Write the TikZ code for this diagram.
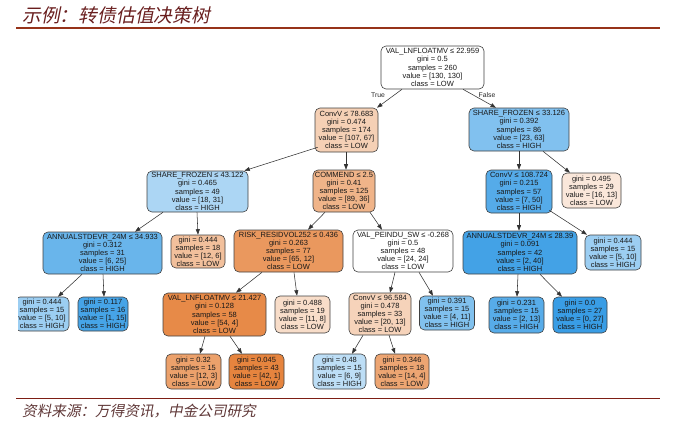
\documentclass[tikz,border=0pt]{standalone}
\usepackage{fontspec}
\setmainfont{Liberation Sans}
\newfontfamily\cjkfont[FakeSlant=0.2]{Noto Sans CJK SC}
\usetikzlibrary{arrows.meta}
\definecolor{titlered}{RGB}{150,50,25}
\definecolor{footred}{RGB}{125,30,20}
\definecolor{headtext}{RGB}{105,30,30}
\definecolor{foottext}{RGB}{95,55,55}
\definecolor{cA}{RGB}{245,208,181}
\definecolor{cB}{RGB}{129,193,239}
\definecolor{cC}{RGB}{172,214,244}
\definecolor{cD}{RGB}{240,180,137}
\definecolor{cE}{RGB}{85,171,233}
\definecolor{cF}{RGB}{250,231,218}
\definecolor{cG}{RGB}{105,181,235}
\definecolor{cH}{RGB}{242,192,156}
\definecolor{cI}{RGB}{234,152,94}
\definecolor{cJ}{RGB}{67,162,230}
\definecolor{cK}{RGB}{156,206,242}
\definecolor{cL}{RGB}{70,164,231}
\definecolor{cM}{RGB}{231,138,72}
\definecolor{cN}{RGB}{248,221,201}
\definecolor{cO}{RGB}{246,211,186}
\definecolor{cP}{RGB}{129,193,238}
\definecolor{cQ}{RGB}{87,172,233}
\definecolor{cR}{RGB}{57,157,229}
\definecolor{cS}{RGB}{236,161,107}
\definecolor{cT}{RGB}{230,132,62}
\definecolor{cU}{RGB}{189,222,246}
\definecolor{cV}{RGB}{237,165,114}
\tikzset{
  tn/.style={draw=black!75, line width=0.6pt, rounded corners=5pt, align=center,
    inner sep=0pt, text=black!90, font=\fontsize{7.5}{8.1}\selectfont},
  edge/.style={draw=black!80, line width=0.55pt, -{Triangle[length=5.5pt,width=4pt]}},
  elab/.style={font=\fontsize{6.8}{7}\selectfont, text=black!85, inner sep=0pt},
  sz/.style 2 args={minimum width=#1pt, minimum height=#2pt}
}
\begin{document}
\begin{tikzpicture}[x=1pt,y=-1pt]
\useasboundingbox (0,0) rectangle (700,432);
% header and footer
\node[anchor=west, inner sep=0pt, text=headtext, font=\cjkfont\fontsize{18.8}{20}\selectfont] (title) at (22,15) {示例：转债估值决策树};
\draw[titlered, line width=1.6pt] (16,28) -- (660,28);
\draw[footred, line width=1pt] (16,398.5) -- (660,398.5);
\node[anchor=west, inner sep=0pt, text=foottext, font=\cjkfont\fontsize{14.6}{16}\selectfont] (foot) at (22,411) {资料来源：万得资讯，中金公司研究};
\begin{scope}
\clip (18,38) rectangle (700,396);
% level 0
\node[tn, fill=white, sz={103}{43}] (root) at (432.5,67.5) {VAL\_LNFLOATMV ≤ 22.959\\gini = 0.5\\samples = 260\\value = [130, 130]\\class = LOW};
% level 1
\node[tn, fill=cA, sz={63}{44}] (n1) at (346.5,130) {ConvV ≤ 78.683\\gini = 0.474\\samples = 174\\value = [107, 67]\\class = LOW};
\node[tn, fill=cB, sz={100}{43}] (n2) at (519,129.5) {SHARE\_FROZEN ≤ 33.126\\gini = 0.392\\samples = 86\\value = [23, 63]\\class = HIGH};
% level 2
\node[tn, fill=cC, sz={101}{41}] (n3) at (197.5,191.5) {SHARE\_FROZEN ≤ 43.122\\gini = 0.465\\samples = 49\\value = [18, 31]\\class = HIGH};
\node[tn, fill=cD, sz={62}{42}] (n4) at (344,191) {COMMEND ≤ 2.5\\gini = 0.41\\samples = 125\\value = [89, 36]\\class = LOW};
\node[tn, fill=cE, sz={66}{43}] (n5) at (519,191.5) {ConvV ≤ 108.724\\gini = 0.215\\samples = 57\\value = [7, 50]\\class = HIGH};
\node[tn, fill=cF, sz={59}{35}] (n6) at (591.5,190.5) {gini = 0.495\\samples = 29\\value = [16, 13]\\class = LOW};
% level 3
\node[tn, fill=cG, sz={119}{42}] (n7) at (102.5,253) {ANNUALSTDEVR\_24M ≤ 34.933\\gini = 0.312\\samples = 31\\value = [6, 25]\\class = HIGH};
\node[tn, fill=cH, sz={54}{33}] (n8) at (198,251.5) {gini = 0.444\\samples = 18\\value = [12, 6]\\class = LOW};
\node[tn, fill=cI, sz={109}{42}] (n9) at (288.5,251) {RISK\_RESIDVOL252 ≤ 0.436\\gini = 0.263\\samples = 77\\value = [65, 12]\\class = LOW};
\node[tn, fill=white, sz={100}{42}] (n10) at (403,251) {VAL\_PEINDU\_SW ≤ -0.268\\gini = 0.5\\samples = 48\\value = [24, 24]\\class = LOW};
\node[tn, fill=cJ, sz={114}{43}] (n11) at (520,252.5) {ANNUALSTDEVR\_24M ≤ 28.39\\gini = 0.091\\samples = 42\\value = [2, 40]\\class = HIGH};
\node[tn, fill=cK, sz={56}{35}] (n12) at (613,252.5) {gini = 0.444\\samples = 15\\value = [5, 10]\\class = HIGH};
% level 4
\node[tn, fill=cK, sz={54}{34}] (n13) at (42,314) {gini = 0.444\\samples = 15\\value = [5, 10]\\class = HIGH};
\node[tn, fill=cL, sz={50}{34}] (n14) at (103,314) {gini = 0.117\\samples = 16\\value = [1, 15]\\class = HIGH};
\node[tn, fill=cM, sz={103}{43}] (n15) at (214.5,314.5) {VAL\_LNFLOATMV ≤ 21.427\\gini = 0.128\\samples = 58\\value = [54, 4]\\class = LOW};
\node[tn, fill=cN, sz={55}{37}] (n16) at (302.5,314.5) {gini = 0.488\\samples = 19\\value = [11, 8]\\class = LOW};
\node[tn, fill=cO, sz={62}{42}] (n17) at (380,314) {ConvV ≤ 96.584\\gini = 0.478\\samples = 33\\value = [20, 13]\\class = LOW};
\node[tn, fill=cP, sz={55}{34}] (n18) at (447,313) {gini = 0.391\\samples = 15\\value = [4, 11]\\class = HIGH};
\node[tn, fill=cQ, sz={55}{36}] (n19) at (516.5,315) {gini = 0.231\\samples = 15\\value = [2, 13]\\class = HIGH};
\node[tn, fill=cR, sz={54}{36}] (n20) at (580,315) {gini = 0.0\\samples = 27\\value = [0, 27]\\class = HIGH};
% level 5
\node[tn, fill=cS, sz={55}{35}] (n21) at (193.5,371.5) {gini = 0.32\\samples = 15\\value = [12, 3]\\class = LOW};
\node[tn, fill=cT, sz={55}{35}] (n22) at (256.5,371.5) {gini = 0.045\\samples = 43\\value = [42, 1]\\class = LOW};
\node[tn, fill=cU, sz={53}{35}] (n23) at (339.5,371.5) {gini = 0.48\\samples = 15\\value = [6, 9]\\class = HIGH};
\node[tn, fill=cV, sz={54}{35}] (n24) at (402,371.5) {gini = 0.346\\samples = 18\\value = [14, 4]\\class = LOW};
% edge labels
\node[elab] (ltrue) at (378,95) {True};
\node[elab] (lfalse) at (487,95) {False};
% edges
\draw[edge] ([xshift=-30.5pt]root.south) -- ([xshift=30.5pt]n1.north);
\draw[edge] ([xshift=30.5pt]root.south) -- ([xshift=-23pt]n2.north);
\draw[edge] ([xshift=3pt,yshift=5pt]n1.south west) -- ([xshift=-4pt]n3.north east);
\draw[edge] ([xshift=-0.5pt]n1.south) -- ([xshift=2pt]n4.north);
\draw[edge] (n2.south) -- (n5.north);
\draw[edge] ([xshift=24pt]n2.south) -- ([xshift=-21.5pt]n6.north);
\draw[edge] (n5.south) -- ([xshift=-1pt]n11.north);
\draw[edge] ([xshift=-3pt,yshift=3pt]n5.south east) -- ([xshift=-26pt]n12.north);
\draw[edge] ([xshift=-2pt]n11.south) -- ([xshift=0.5pt]n19.north);
\draw[edge] ([xshift=20pt]n11.south) -- ([xshift=-18pt]n20.north);
\draw[edge] ([xshift=-34.5pt]n3.south) -- ([xshift=32.5pt]n7.north);
\draw[edge] ([xshift=-0.5pt]n3.south) -- (n8.north);
\draw[edge] ([xshift=-19pt]n4.south) -- ([xshift=19.5pt]n9.north);
\draw[edge] ([xshift=26pt]n4.south) -- ([xshift=-21pt]n10.north);
\draw[edge] ([xshift=-20.5pt]n7.south) -- ([xshift=16pt]n13.north);
\draw[edge] ([xshift=0.5pt]n7.south) -- ([xshift=1pt]n14.north);
\draw[edge] ([xshift=-26.5pt]n9.south) -- ([xshift=21.5pt]n15.north);
\draw[edge] ([xshift=5.5pt]n9.south) -- ([xshift=-5.5pt]n16.north);
\draw[edge] ([xshift=-8pt]n10.south) -- ([xshift=10pt]n17.north);
\draw[edge] ([xshift=16pt]n10.south) -- ([xshift=-14pt]n18.north);
\draw[edge] ([xshift=-9.5pt]n15.south) -- ([xshift=6.5pt]n21.north);
\draw[edge] ([xshift=15.5pt]n15.south) -- ([xshift=-14.5pt]n22.north);
\draw[edge] ([xshift=-17pt]n17.south) -- ([xshift=12.5pt]n23.north);
\draw[edge] ([xshift=9pt]n17.south) -- ([xshift=-7pt]n24.north);
\end{scope}
\end{tikzpicture}
\end{document}
